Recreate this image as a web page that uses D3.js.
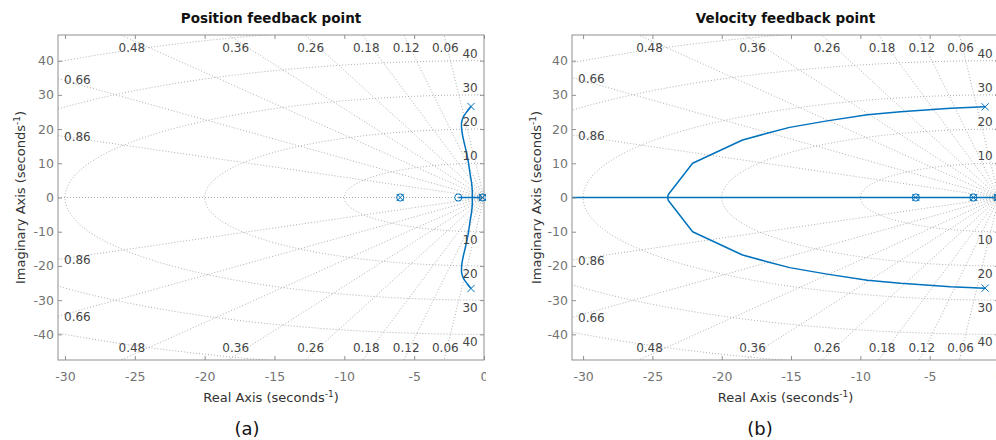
<!DOCTYPE html>
<html>
<head>
<meta charset="utf-8">
<script src="https://cdn.jsdelivr.net/npm/d3@7"></script>
<style>
  body { margin: 0; background: #fff; }
  svg { display: block; font-family: "DejaVu Sans", Verdana, sans-serif; }
</style>
</head>
<body>
<svg id="chart" width="996" height="440"></svg>
<script>
// ---- axis ticks ----
const realTicks = [-30, -25, -20, -15, -10, -5, 0];
const imagTicks = [-40, -30, -20, -10, 0, 10, 20, 30, 40];

// ---- s-plane grid (damping ratio rays, natural frequency circles) ----
const dampingRatios = [0.06, 0.12, 0.18, 0.26, 0.36, 0.48, 0.66, 0.86];
const naturalFreqs = [10, 20, 30, 40, 50];
const smallFreqs = [0.2, 0.4, 0.6];

// ---- position feedback root locus ----
// upper complex branch, from the open-loop pole down to the break-in point
const posBranchRe = [-0.93, -1.2, -1.45, -1.6, -1.6, -1.5, -1.33, -1.12, -1.0, -0.88, -0.84, -0.83];
const posBranchIm = [26.6, 25.2, 23.8, 22.0, 20.0, 17.5, 14.5, 10.4, 7.0, 4.0, 2.0, 0.0];
const posRealRe = [-1.84, -0.1];          // real-axis segment of the locus
const posPoleRe = [-0.93, -0.93];
const posPoleIm = [26.6, -26.6];
const posZeroRe = [-1.84];
const posCancelRe = [-6, -0.1];           // pole and zero at the same spot

// ---- velocity feedback root locus ----
const velBranchRe = [-1.0, -3.5, -7.1, -9.5, -12.4, -15.1, -16.8, -18.5, -22.1, -23.85, -23.9];
const velBranchIm = [26.5, 26.1, 25.1, 24.2, 22.4, 20.5, 18.7, 16.8, 10.0, 0.9, 0.0];
const velRealRe = [-30.8, 0];
const velPoleRe = [-1.0, -1.0];
const velPoleIm = [26.5, -26.5];
const velZeroRe = [];
const velCancelRe = [-6, -1.85, -0.1];

const imagLimit = 47.5;
const blue = "#0072BD";

const panels = [
  {
    id: "a", title: "Position feedback point", caption: "(a)",
    left: 58, right: 484, top: 35, bottom: 360, xMin: -30.5, crop: 486,
    yLabelX: 25, captionX: 247,
    branchRe: posBranchRe, branchIm: posBranchIm, realRe: posRealRe,
    poleRe: posPoleRe, poleIm: posPoleIm, zeroRe: posZeroRe, cancelRe: posCancelRe
  },
  {
    id: "b", title: "Velocity feedback point", caption: "(b)",
    left: 572, right: 999, top: 35, bottom: 360, xMin: -30.8, crop: 996,
    yLabelX: 541, captionX: 760,
    branchRe: velBranchRe, branchIm: velBranchIm, realRe: velRealRe,
    poleRe: velPoleRe, poleIm: velPoleIm, zeroRe: velZeroRe, cancelRe: velCancelRe
  }
];

const svg = d3.select("#chart");
const defs = svg.append("defs");

panels.forEach(p => {
  const x = d3.scaleLinear().domain([p.xMin, 0]).range([p.left, p.right]);
  const y = d3.scaleLinear().domain([-imagLimit, imagLimit]).range([p.bottom, p.top]);
  const cropLeft = p.id === "a" ? 0 : 500;

  defs.append("clipPath").attr("id", "plot-" + p.id)
    .append("rect").attr("x", p.left).attr("y", p.top)
    .attr("width", p.right - p.left).attr("height", p.bottom - p.top);
  defs.append("clipPath").attr("id", "crop-" + p.id)
    .append("rect").attr("x", cropLeft).attr("y", 0)
    .attr("width", p.crop - cropLeft).attr("height", 440);

  const g = svg.append("g").attr("clip-path", `url(#crop-${p.id})`);
  const plot = g.append("g").attr("clip-path", `url(#plot-${p.id})`);

  const line = d3.line().x(d => x(d[0])).y(d => y(d[1]));

  // grid
  const grid = plot.append("g")
    .attr("fill", "none").attr("stroke", "#9a9a9a")
    .attr("stroke-width", 0.8).attr("stroke-dasharray", "1 2");

  const R = 200;
  dampingRatios.forEach(z => {
    const s = Math.sqrt(1 - z * z);
    grid.append("path").attr("d", line([[0, 0], [-z * R, s * R]]));
    grid.append("path").attr("d", line([[0, 0], [-z * R, -s * R]]));
  });
  grid.append("path").attr("d", line([[p.xMin, 0], [0, 0]]));
  naturalFreqs.concat(smallFreqs).forEach(w => {
    const pts = d3.range(90, 270.5, 1).map(a => {
      const t = a * Math.PI / 180;
      return [w * Math.cos(t), w * Math.sin(t)];
    });
    grid.append("path").attr("d", line(pts));
  });

  // grid labels
  const glab = g.append("g").attr("fill", "#454545").attr("font-size", 12);
  dampingRatios.forEach(z => {
    const k = z / Math.sqrt(1 - z * z);
    const reTop = -imagLimit * k;
    if (reTop >= p.xMin) {
      const lx = x(-0.97 * imagLimit * k);
      glab.append("text").attr("x", lx).attr("y", p.top + 17)
        .attr("text-anchor", "middle").text(String(z));
      glab.append("text").attr("x", lx).attr("y", p.bottom - 8)
        .attr("text-anchor", "middle").text(String(z));
    } else {
      const im = -p.xMin / k;
      glab.append("text").attr("x", p.left + 6).attr("y", y(im) + 1)
        .attr("dominant-baseline", "central").text(String(z));
      glab.append("text").attr("x", p.left + 6).attr("y", y(-im) + 1)
        .attr("dominant-baseline", "central").text(String(z));
    }
  });
  naturalFreqs.filter(w => w < imagLimit).forEach(w => {
    glab.append("text").attr("x", x(-1.0)).attr("y", y(w) - 3)
      .attr("text-anchor", "middle").text(String(w));
    glab.append("text").attr("x", x(-1.0)).attr("y", y(-w) + 12)
      .attr("text-anchor", "middle").text(String(w));
  });

  // root locus
  const loc = plot.append("g").attr("fill", "none").attr("stroke", blue)
    .attr("stroke-width", 1.5).attr("stroke-linejoin", "round");
  const upper = p.branchRe.map((r, i) => [r, p.branchIm[i]]);
  const lower = p.branchRe.map((r, i) => [r, -p.branchIm[i]]);
  const curve = p.id === "a" ? d3.curveCatmullRom : d3.curveLinear;
  const cl = d3.line().x(d => x(d[0])).y(d => y(d[1])).curve(curve);
  loc.append("path").attr("d", cl(upper.concat(lower.slice().reverse().slice(1))));
  loc.append("path").attr("d", line(p.realRe.map(r => [r, 0])));

  // frame and axes
  const axisColor = "#8f8f8f";
  const axes = g.append("g");
  const ax = axes.append("g").attr("transform", `translate(0,${p.bottom})`)
    .call(d3.axisBottom(x).tickValues(realTicks).tickSize(-4).tickPadding(12).tickFormat(d => String(d)));
  const ay = axes.append("g").attr("transform", `translate(${p.left},0)`)
    .call(d3.axisLeft(y).tickValues(imagTicks).tickSize(-4).tickPadding(4).tickFormat(d => String(d)));
  const at = axes.append("g").attr("transform", `translate(0,${p.top})`)
    .call(d3.axisTop(x).tickValues(realTicks).tickSize(-4).tickFormat(""));
  const ar = axes.append("g").attr("transform", `translate(${p.right},0)`)
    .call(d3.axisRight(y).tickValues(imagTicks).tickSize(-4).tickFormat(""));
  [ax, ay, at, ar].forEach(a => {
    a.select(".domain").remove();
    a.selectAll(".tick line").attr("stroke", axisColor);
    a.selectAll(".tick text").attr("fill", "#737373")
      .attr("font-size", 12.5).attr("font-family", "DejaVu Sans, Verdana, sans-serif");
  });
  axes.append("rect").attr("x", p.left).attr("y", p.top)
    .attr("width", p.right - p.left).attr("height", p.bottom - p.top)
    .attr("fill", "none").attr("stroke", axisColor).attr("stroke-width", 1);

  // pole / zero markers
  const mk = g.append("g").attr("fill", "none").attr("stroke", blue).attr("stroke-width", 1);
  const cross = (cx, cy) => {
    const s = 3.6;
    mk.append("path").attr("d", `M${cx - s},${cy - s}L${cx + s},${cy + s}M${cx - s},${cy + s}L${cx + s},${cy - s}`);
  };
  const ring = (cx, cy) => mk.append("circle").attr("cx", cx).attr("cy", cy).attr("r", 3.6);
  p.poleRe.forEach((r, i) => cross(x(r), y(p.poleIm[i])));
  p.zeroRe.forEach(r => ring(x(r), y(0)));
  p.cancelRe.forEach(r => { cross(x(r), y(0)); ring(x(r), y(0)); });

  // titles and axis labels
  const cx = (p.left + p.right) / 2;
  g.append("text").attr("x", cx).attr("y", 23).attr("text-anchor", "middle")
    .attr("font-weight", "bold").attr("font-size", 13.5).attr("fill", "#111")
    .text(p.title);

  const xl = g.append("text").attr("x", cx).attr("y", 402).attr("text-anchor", "middle")
    .attr("font-size", 13).attr("fill", "#333");
  xl.append("tspan").text("Real Axis (seconds");
  xl.append("tspan").attr("dy", -5).attr("font-size", 9).text("-1");
  xl.append("tspan").attr("dy", 5).text(")");

  const yl = g.append("text")
    .attr("transform", `translate(${p.yLabelX},${(p.top + p.bottom) / 2}) rotate(-90)`)
    .attr("text-anchor", "middle").attr("font-size", 13).attr("fill", "#333");
  yl.append("tspan").text("Imaginary Axis (seconds");
  yl.append("tspan").attr("dy", -5).attr("font-size", 9).text("-1");
  yl.append("tspan").attr("dy", 5).text(")");

  svg.append("text").attr("x", p.captionX).attr("y", 435).attr("text-anchor", "middle")
    .attr("font-family", "DejaVu Sans, Verdana, sans-serif").attr("font-size", 18)
    .attr("fill", "#111").text(p.caption);
});
</script>
</body>
</html>
